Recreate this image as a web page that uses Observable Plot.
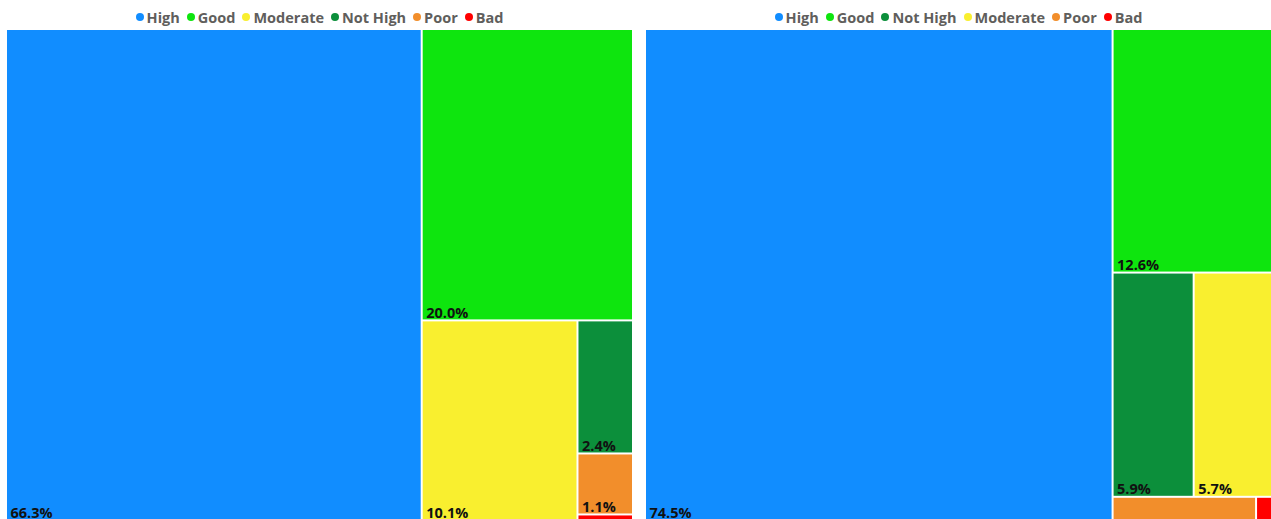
<!DOCTYPE html>
<html><head><meta charset="utf-8">
<script src="https://cdn.jsdelivr.net/npm/d3@7"></script>
<script src="https://cdn.jsdelivr.net/npm/@observablehq/plot@0.6"></script>
<style>
html,body{margin:0;padding:0;overflow:hidden;background:#fff;font-family:"Open Sans",sans-serif;}
.panel{position:absolute;top:0;width:627px;}
.legend{height:29px;box-sizing:border-box;padding-top:5px;display:flex;justify-content:center;align-items:center;gap:7px;font-weight:700;font-size:14.5px;color:#605E5C;}
.item{display:flex;align-items:center;gap:3px;}
.sw{width:8px;height:8px;border-radius:50%;}
svg{display:block;}
</style></head><body>
<div id="left" class="panel" style="left:6px"></div>
<div id="right" class="panel" style="left:645px"></div>
<script>
const allCategories = ["High","Good","Moderate","Not High","Poor","Bad"];
const categoryColors = ["#118DFF","#0EE50E","#F9EF2F","#0C8F3B","#F28E2B","#FF0000"];

const categoriesLeft = ["High","Good","Moderate","Not High","Poor","Bad"];
const valuesLeft = [66.3, 20.0, 10.1, 2.4, 1.1, 0.1];

const categoriesRight = ["High","Good","Not High","Moderate","Poor","Bad"];
const valuesRight = [74.5, 12.6, 5.9, 5.7, 1.08, 0.12];

function drawPanel(id, cats, vals){
  const W = 627, H = 491;
  const el = document.getElementById(id);
  const legend = document.createElement("div");
  legend.className = "legend";
  cats.forEach(c => {
    const it = document.createElement("div");
    it.className = "item";
    const sw = document.createElement("span");
    sw.className = "sw";
    sw.style.background = categoryColors[allCategories.indexOf(c)];
    const t = document.createElement("span");
    t.textContent = c;
    it.appendChild(sw); it.appendChild(t);
    legend.appendChild(it);
  });
  el.appendChild(legend);

  const root = d3.hierarchy({children: cats.map((c,i)=>({name:c, value:vals[i]}))})
    .sum(d => d.value || 0)
    .sort((a,b) => b.value - a.value);
  d3.treemap().size([W,H]).tile(d3.treemapSquarify)(root);
  const cells = root.leaves().map(l => ({name:l.data.name, value:l.data.value, x0:l.x0, x1:l.x1, y0:l.y0, y1:l.y1}));

  const chart = Plot.plot({
    width: W, height: H, margin: 0,
    style: {background: "#fff", fontFamily: "'Open Sans', sans-serif"},
    x: {domain:[0,W], range:[0,W], axis:null},
    y: {domain:[0,H], range:[0,H], axis:null},
    color: {domain: allCategories, range: categoryColors},
    marks: [
      Plot.rect(cells, {x1:"x0", x2:"x1", y1:"y0", y2:"y1", fill:"name", inset:1}),
      Plot.text(cells.filter(d => d.y1 - d.y0 >= 30 && d.x1 - d.x0 >= 40), {
        x:"x0", y:"y1", text: d => d.value.toFixed(1) + "%",
        textAnchor:"start", lineAnchor:"bottom", dx:4, dy:-3,
        fontWeight:700, fontSize:14.5, fill:"#111"
      })
    ]
  });
  el.appendChild(chart);
}
drawPanel("left", categoriesLeft, valuesLeft);
drawPanel("right", categoriesRight, valuesRight);
</script>
</body></html>
